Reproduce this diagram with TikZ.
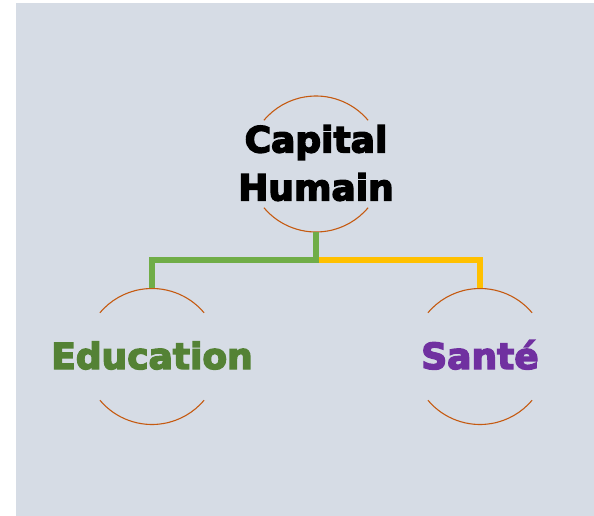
\documentclass[tikz,border=0pt]{standalone}
\usepackage{fontspec}
\newfontfamily\heavy{DejaVu Sans Bold}[FakeBold=4]
\definecolor{bgblue}{HTML}{D6DCE5}
\definecolor{arcorange}{HTML}{C55A11}
\definecolor{linegreen}{HTML}{70AD47}
\definecolor{lineyellow}{HTML}{FFC000}
\definecolor{edugreen}{HTML}{548235}
\definecolor{santepurple}{HTML}{7030A0}
\begin{document}
\begin{tikzpicture}[x=1pt,y=-1pt,
  ring/.style={circle,minimum size=136pt,inner sep=0pt},
  arcline/.style={draw=arcorange,line width=1.1pt},
  conn/.style={line width=5.5pt,line join=miter,line cap=butt},
  label/.style={font=\heavy\fontsize{36}{48}\selectfont,inner sep=0pt,align=center}]
\useasboundingbox (0,0) rectangle (594,516);
\fill[bgblue] (16,3) rectangle (594,516);
% rings (invisible circle nodes)
\node[ring] (chc) at (316,164) {};
\node[ring] (educ) at (152,356.5) {};
\node[ring] (santec) at (480,356.5) {};
% arcs
\foreach \n in {chc,educ,santec}{
  \draw[arcline] ([shift={(40:68pt)}]\n.center) arc[start angle=40,end angle=140,radius=68pt];
  \draw[arcline] ([shift={(220:68pt)}]\n.center) arc[start angle=220,end angle=320,radius=68pt];
}
% connectors
\coordinate (split) at (316,260);
\draw[conn,lineyellow] (split) -| (santec.north);
\draw[conn,linegreen] (chc.south) -- (split) -| (educ.north);
% texts
\node[label,text=black] (chtext) at (316,163) {Capital\\Humain};
\node[label,text=edugreen,anchor=base] (edutext) at (152,369) {Education};
\node[label,text=santepurple,anchor=base] (santetext) at (480,369) {Santé};
\end{tikzpicture}
\end{document}
